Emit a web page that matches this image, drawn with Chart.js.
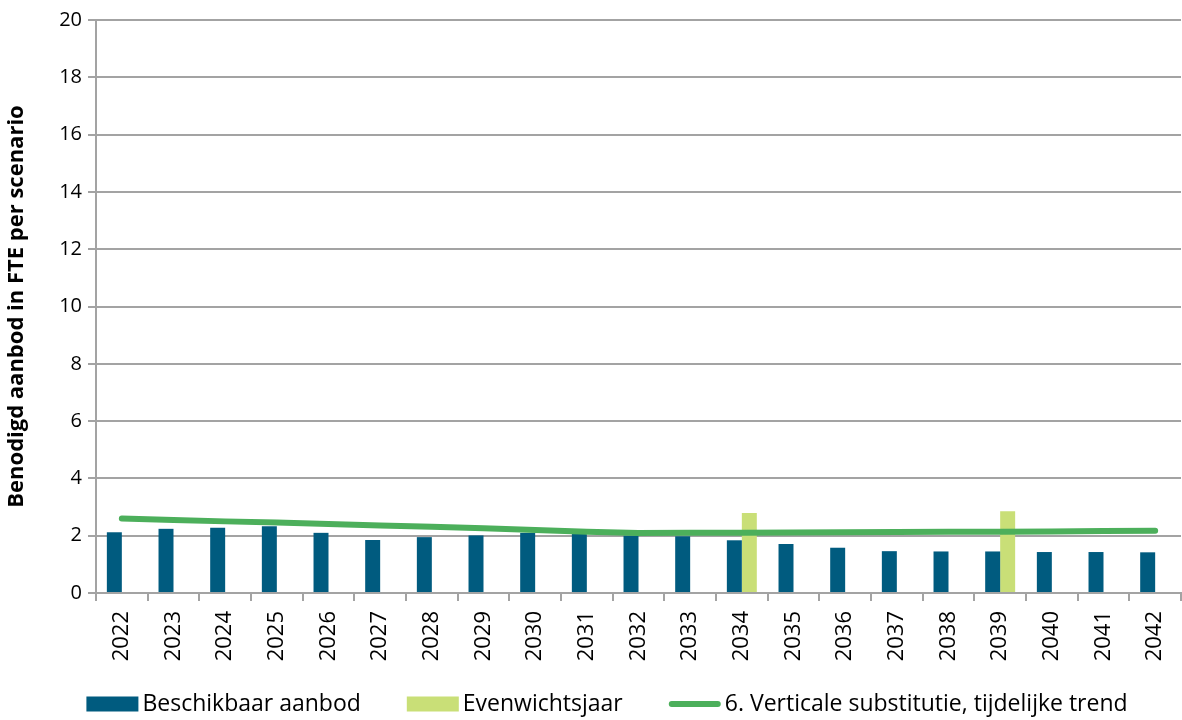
<!DOCTYPE html>
<html>
<head>
<meta charset="utf-8">
<script src="https://cdn.jsdelivr.net/npm/chart.js@4/dist/chart.umd.min.js"></script>
<style>
  html, body { margin: 0; padding: 0; background: #ffffff; }
  #wrap { width: 1182px; height: 720px; position: relative; }
</style>
</head>
<body>
<div id="wrap"><canvas id="c" width="1182" height="720"></canvas></div>
<script>
// Jaren op de x-as
const years = ['2022','2023','2024','2025','2026','2027','2028','2029','2030','2031','2032',
               '2033','2034','2035','2036','2037','2038','2039','2040','2041','2042'];

// Beschikbaar aanbod (FTE)
const beschikbaarAanbod = [2.12, 2.24, 2.28, 2.33, 2.10, 1.85, 1.95, 2.01, 2.10, 2.06, 2.00,
                           1.98, 1.84, 1.71, 1.58, 1.46, 1.45, 1.45, 1.43, 1.43, 1.42];

// Evenwichtsjaar: alleen gevuld in de jaren waarin vraag en aanbod in evenwicht zijn
const evenwichtsjaar = [null, null, null, null, null, null, null, null, null, null, null,
                        null, 2.79, null, null, null, null, 2.85, null, null, null];

// Scenario 6: verticale substitutie, tijdelijke trend
const scenario6 = [2.60, 2.55, 2.50, 2.46, 2.41, 2.36, 2.31, 2.26, 2.20, 2.14, 2.09,
                   2.10, 2.10, 2.11, 2.12, 2.13, 2.14, 2.14, 2.15, 2.16, 2.17];

// As-instellingen
const yMin = 0, yMax = 20, yStep = 2;

const FONT = '"Open Sans", "DejaVu Sans", sans-serif';
const GRID = '#a3a3a3';

// Legenda onder de grafiek: rechthoek voor staven, lijnstuk voor de lijn
const bottomLegend = {
  id: 'bottomLegend',
  afterDraw(chart) {
    const ctx = chart.ctx;
    const fontSize = 23;
    const swatchW = 52, swatchH = 15, textGap = 4, itemGap = 46;
    const order = [1, 2, 0];
    ctx.save();
    ctx.font = fontSize + 'px ' + FONT;
    ctx.textBaseline = 'middle';
    ctx.textAlign = 'left';
    const items = order.map(i => {
      const ds = chart.data.datasets[i];
      return { ds, w: ctx.measureText(ds.label).width };
    });
    const total = items.reduce((s, it) => s + swatchW + textGap + it.w, 0) + itemGap * (items.length - 1);
    let x = 607 - total / 2;
    const cy = 704;
    items.forEach(it => {
      const ds = it.ds;
      if (ds.type === 'line') {
        ctx.strokeStyle = ds.borderColor;
        ctx.lineWidth = 6;
        ctx.lineCap = 'round';
        ctx.beginPath();
        ctx.moveTo(x + 3, cy);
        ctx.lineTo(x + swatchW - 3, cy);
        ctx.stroke();
      } else {
        ctx.fillStyle = ds.backgroundColor;
        ctx.fillRect(x, cy - swatchH / 2, swatchW, swatchH);
      }
      x += swatchW + textGap;
      ctx.fillStyle = '#000';
      ctx.fillText(ds.label, x, cy);
      x += it.w + itemGap;
    });
    ctx.restore();
  }
};

new Chart(document.getElementById('c'), {
  data: {
    labels: years,
    datasets: [
      {
        type: 'line',
        label: '6. Verticale substitutie, tijdelijke trend',
        data: scenario6,
        borderColor: '#4caf5b',
        backgroundColor: '#4caf5b',
        borderWidth: 6,
        borderCapStyle: 'round',
        pointRadius: 0,
        tension: 0,
        order: 0
      },
      {
        type: 'bar',
        label: 'Beschikbaar aanbod',
        data: beschikbaarAanbod,
        backgroundColor: '#005b7f',
        order: 1
      },
      {
        type: 'bar',
        label: 'Evenwichtsjaar',
        data: evenwichtsjaar,
        backgroundColor: '#c9df77',
        order: 2
      }
    ]
  },
  plugins: [bottomLegend],
  options: {
    responsive: false,
    animation: false,
    devicePixelRatio: 1,
    layout: { padding: { top: 20, right: 1, left: 0, bottom: 47 } },
    datasets: {
      bar: { categoryPercentage: 0.58, barPercentage: 1.0 }
    },
    plugins: {
      tooltip: { enabled: false },
      legend: { display: false }
    },
    scales: {
      x: {
        offset: true,
        afterFit: (scale) => {
          scale.height = 80;
          scale.paddingLeft = 0;
          scale.paddingRight = 0;
        },
        grid: {
          display: true,
          offset: true,
          drawOnChartArea: false,
          drawTicks: true,
          tickLength: 8,
          color: GRID,
          lineWidth: 2
        },
        border: { display: true, color: GRID, width: 2 },
        ticks: {
          color: '#000',
          font: { family: FONT, size: 22 },
          minRotation: 90,
          maxRotation: 90,
          padding: 10,
          autoSkip: false
        }
      },
      y: {
        min: yMin,
        max: yMax,
        afterFit: (scale) => {
          scale.width = 96;
          scale.paddingTop = 0;
          scale.paddingBottom = 0;
        },
        grid: {
          color: GRID,
          lineWidth: 2,
          drawTicks: true,
          tickLength: 8
        },
        border: { display: true, color: GRID, width: 2 },
        ticks: {
          stepSize: yStep,
          color: '#000',
          font: { family: FONT, size: 20 },
          padding: 6
        },
        title: {
          display: true,
          text: 'Benodigd aanbod in FTE per scenario',
          color: '#000',
          font: { family: FONT, size: 22, weight: 'bold' },
          padding: { top: 4, bottom: 2 }
        }
      }
    }
  }
});
</script>
</body>
</html>
